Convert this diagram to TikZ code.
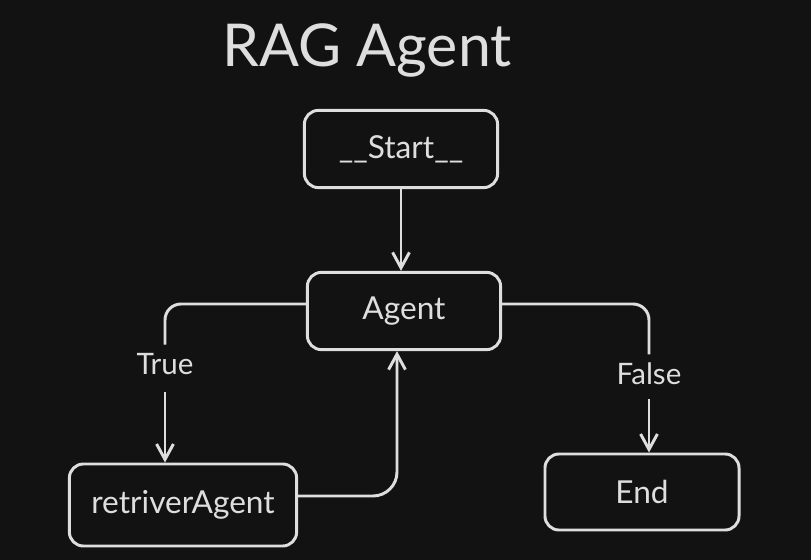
\documentclass[tikz,border=0pt]{standalone}
\usepackage{fontspec}
\setmainfont{Lato}
\usetikzlibrary{arrows.meta, calc}
\definecolor{bgdark}{RGB}{18,18,18}
\definecolor{chalk}{RGB}{222,222,222}

\begin{document}
\begin{tikzpicture}[x=0.025cm, y=-0.025cm,
  box/.style={draw=chalk, line width=2.1pt, rounded corners=0.35cm, text=chalk,
    font=\fontsize{22.5}{26}\selectfont, inner sep=0pt},
  wire/.style={draw=chalk, line width=2.1pt},
  conn/.style={wire, -{Straight Barb[length=11pt, width=12pt]}},
  cond/.style={text=chalk, font=\fontsize{21}{25}\selectfont, inner xsep=0pt, inner ysep=6pt}]
% background
\fill[bgdark] (0,0) rectangle (811,560);
\useasboundingbox (0,0) rectangle (811,560);
% title
\node[text=chalk, font=\fontsize{42}{48}\selectfont] (title) at (367,50) {RAG Agent};
% boxes
\node[box, minimum width=4.83cm, minimum height=1.93cm] (start) at (401,149) {\_\_Start\_\_};
\node[box, minimum width=4.83cm, minimum height=1.93cm] (agent) at (404,311) {Agent};
\node[box, minimum width=5.68cm, minimum height=2.05cm] (ret) at (183,505) {retriverAgent};
\node[box, minimum width=4.85cm, minimum height=1.90cm] (end) at (642,492) {End};
% branch labels
\node[cond] (true) at (165,364) {True};
\node[cond] (false) at (649,374) {False};
% edges
\draw[conn] (start.south) -- (start.south |- agent.north);
\draw[wire, rounded corners=0.4cm] ($(agent.west)+(0,-7)$) -| (true.north);
\draw[conn, shorten <=6pt] (true.south) -- (true.south |- ret.north);
\draw[wire, rounded corners=0.4cm] ($(agent.east)+(0,-7)$) -| (false.north);
\draw[conn, shorten <=4pt] (false.south) -- (false.south |- end.north);
\draw[conn, rounded corners=0.6cm] ($(ret.east)+(0,-9)$) -| ($(agent.south)+(-7,0)$);
\end{tikzpicture}
\end{document}
